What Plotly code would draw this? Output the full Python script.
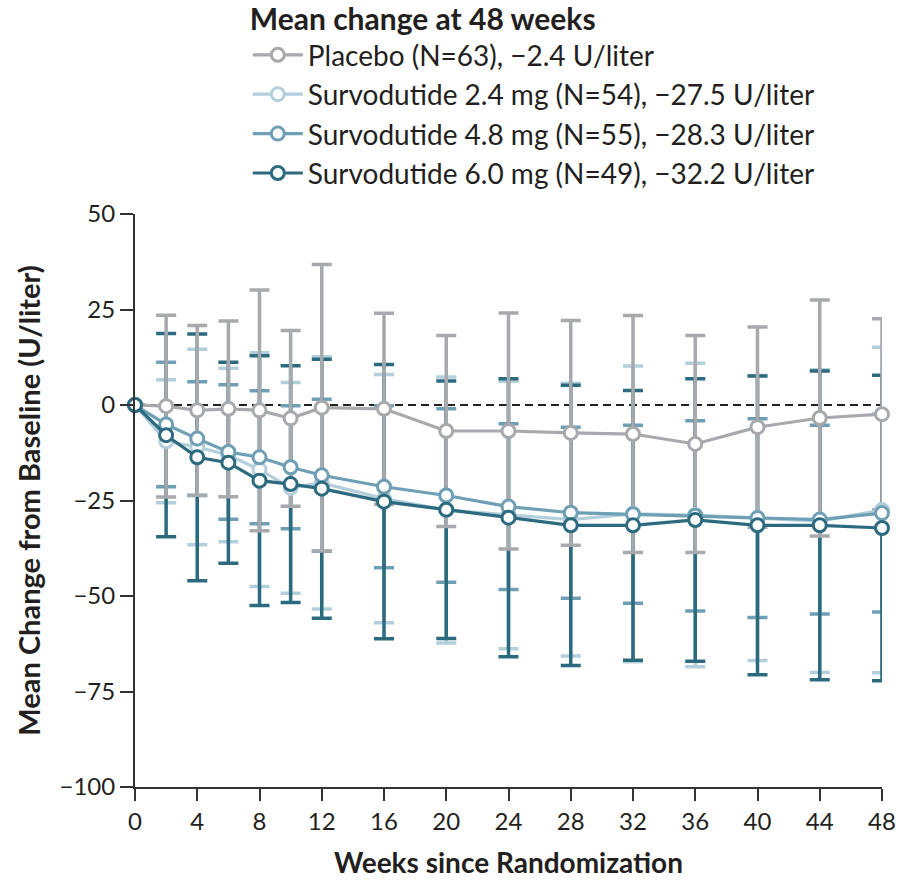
import plotly.graph_objects as go

# Weeks of assessment
weeks = [0, 2, 4, 6, 8, 10, 12, 16, 20, 24, 28, 32, 36, 40, 44, 48]

# Mean change from baseline (U/liter) and standard deviations per arm
placebo_mean = [0, -0.3, -1.4, -1.0, -1.4, -3.5, -0.7, -1.0, -6.8, -6.8, -7.3, -7.6, -10.2, -5.8, -3.4, -2.4]
placebo_sd = [0, 23.8, 22.2, 23.0, 31.5, 23.0, 37.5, 25.0, 25.0, 30.9, 29.4, 31.0, 28.4, 26.2, 30.9, 25.0]

surv24_mean = [0, -9.5, -11.0, -13.1, -16.9, -21.7, -20.4, -24.5, -27.5, -28.8, -30.0, -28.5, -28.8, -29.6, -30.4, -27.5]
surv24_sd = [0, 16.1, 25.6, 22.7, 30.6, 27.6, 33.0, 32.5, 34.8, 35.0, 35.7, 38.7, 39.7, 37.3, 39.6, 42.6]

surv48_mean = [0, -5.1, -8.8, -12.3, -13.7, -16.3, -18.4, -21.4, -23.7, -26.6, -28.2, -28.6, -29.0, -29.6, -30.0, -28.3]
surv48_sd = [0, 16.3, 14.9, 17.6, 17.4, 16.1, 19.9, 21.2, 22.7, 21.7, 22.4, 23.3, 24.9, 26.0, 24.7, 25.9]

surv60_mean = [0, -7.9, -13.7, -15.1, -19.8, -20.7, -21.9, -25.3, -27.4, -29.5, -31.5, -31.5, -30.1, -31.5, -31.5, -32.2]
surv60_sd = [0, 26.6, 32.3, 26.3, 32.7, 31.0, 33.9, 35.9, 33.7, 36.4, 36.7, 35.3, 37.0, 39.1, 40.4, 40.0]

names = [
    "Placebo (N=63), \u22122.4 U/liter",
    "Survodutide 2.4 mg (N=54), \u221227.5 U/liter",
    "Survodutide 4.8 mg (N=55), \u221228.3 U/liter",
    "Survodutide 6.0 mg (N=49), \u221232.2 U/liter",
]
colors = ["#a7a9ac", "#b3cfdc", "#6e9fb5", "#2c6a7f"]
means = [placebo_mean, surv24_mean, surv48_mean, surv60_mean]
sds = [placebo_sd, surv24_sd, surv48_sd, surv60_sd]

x_ticks = list(range(0, 49, 4))
y_ticks = [50, 25, 0, -25, -50, -75, -100]

FONT = "Lato"
TEXT = "#231f20"

fig = go.Figure()

# Error bars first (2.4 mg lowest, then 4.8, 6.0, placebo on top), all below the lines
for i in [1, 2, 3, 0]:
    fig.add_trace(go.Scatter(
        x=weeks, y=means[i], mode="markers",
        marker=dict(size=1, color="rgba(0,0,0,0)"),
        error_y=dict(type="data", array=sds[i], symmetric=True,
                     color=colors[i], thickness=3.5, width=10),
        showlegend=False, hoverinfo="skip", cliponaxis=False,
    ))

# Mean lines with open circle markers
for i in range(4):
    fig.add_trace(go.Scatter(
        x=weeks, y=means[i], mode="lines+markers", name=names[i],
        line=dict(color=colors[i], width=3.2),
        marker=dict(symbol="circle", size=13, color="white",
                    line=dict(color=colors[i], width=3)),
        cliponaxis=False,
    ))

fig.add_shape(type="line", x0=0, x1=48, y0=0, y1=0, xref="x", yref="y",
              line=dict(color="#222222", width=2, dash="8px,5px"), layer="below")

fig.update_layout(
    width=907, height=889,
    margin=dict(l=135, r=25, t=214, b=102, autoexpand=False),
    paper_bgcolor="white", plot_bgcolor="white",
    font=dict(family=FONT, color=TEXT),
    showlegend=True,
    legend=dict(
        x=0.151, y=1.389, xanchor="left", yanchor="top",
        font=dict(family=FONT, size=28, color=TEXT),
        title=dict(text="Mean change at 48 weeks", side="top",
                   font=dict(family=FONT, size=30, color=TEXT, weight="bold")),
        itemwidth=50, bgcolor="rgba(0,0,0,0)", borderwidth=0,
        tracegroupgap=0,
    ),
    xaxis=dict(
        range=[0, 48], tickvals=x_ticks, ticktext=[str(v) for v in x_ticks],
        ticks="outside", ticklen=12, tickwidth=2, tickcolor="#333333",
        showline=True, linecolor="#333333", linewidth=2,
        showgrid=False, zeroline=False,
        tickfont=dict(family=FONT, size=24, color=TEXT),
        title=dict(text="Weeks since Randomization", standoff=20,
                   font=dict(family=FONT, size=28, color=TEXT, weight="bold")),
        automargin=False,
    ),
    yaxis=dict(
        range=[-100, 50], tickvals=y_ticks,
        ticks="outside", ticklen=13, tickwidth=2, tickcolor="#333333",
        showline=True, linecolor="#333333", linewidth=2,
        showgrid=False, zeroline=False,
        tickfont=dict(family=FONT, size=24, color=TEXT),
        title=dict(text="Mean Change from Baseline (U/liter)", standoff=10,
                   font=dict(family=FONT, size=29, color=TEXT, weight="bold")),
        automargin=False,
    ),
)

fig.write_html("out.html")
